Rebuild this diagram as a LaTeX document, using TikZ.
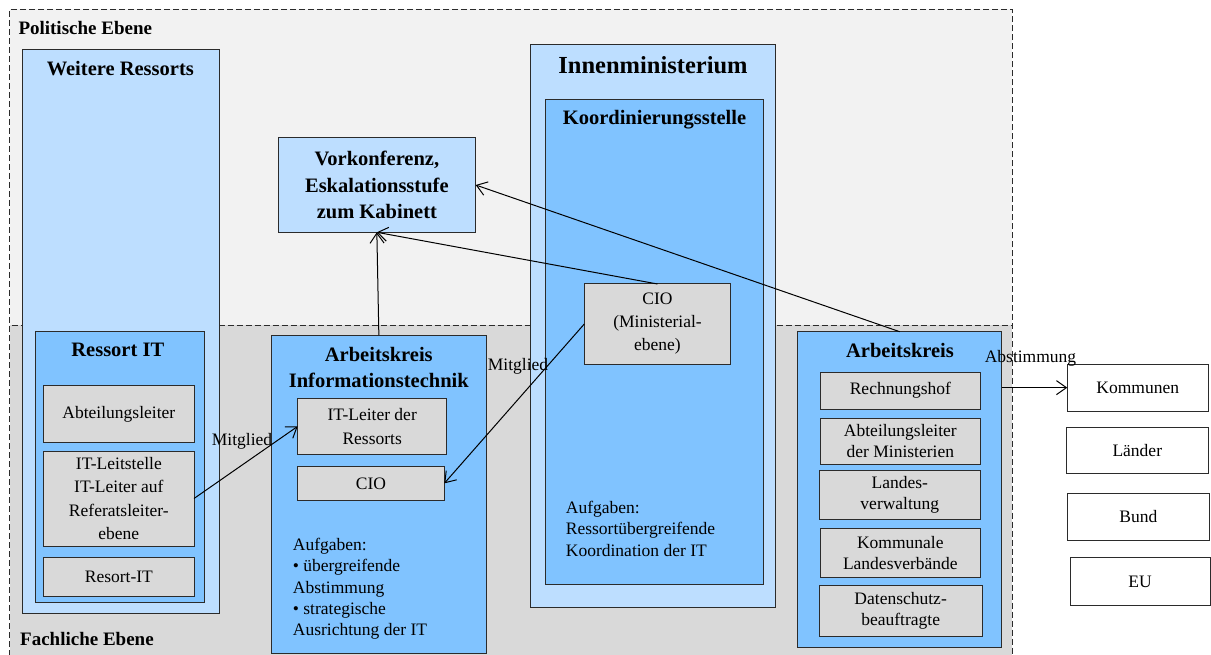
\documentclass[tikz,border=0pt]{standalone}
\usepackage{fontspec}
\setmainfont{Liberation Serif}
\usetikzlibrary{arrows.meta}

\definecolor{polbg}{HTML}{F2F2F2}
\definecolor{fachbg}{HTML}{D9D9D9}
\definecolor{lightblue}{HTML}{BDDEFF}
\definecolor{midblue}{HTML}{80C3FF}
\definecolor{cellgray}{HTML}{D9D9D9}
\definecolor{edge}{HTML}{2B2B2B}

\begin{document}
\begin{tikzpicture}[x=1pt,y=-1pt,
  % a rectangle spanning the corners (x1,y1) and (x2,y2)
  span/.style n args={4}{rectangle, anchor=center,
    at={({(#1+#3)/2},{(#2+#4)/2})},
    minimum width={(#3)-(#1)}, minimum height={(#4)-(#2)}},
  frame/.style={draw=edge, line width=1pt, inner sep=0pt, outer sep=0pt},
  outerbox/.style={frame, fill=lightblue},
  innerbox/.style={frame, fill=midblue},
  cell/.style={frame, fill=cellgray, align=center, font=\fontsize{17.5}{23.3}\selectfont},
  rcell/.style={frame, fill=cellgray, align=center, font=\fontsize{17.5}{21}\selectfont},
  extbox/.style={frame, fill=white, align=center, font=\fontsize{17.5}{21}\selectfont},
  level/.style={draw=edge, line width=1pt, dash pattern=on 6pt off 3pt},
  heading/.style={font=\bfseries\fontsize{20.5}{26.5}\selectfont, align=center, inner sep=0pt},
  leveltitle/.style={font=\bfseries\fontsize{19}{23}\selectfont, anchor=west, inner sep=0pt},
  tasks/.style={font=\fontsize{17.5}{21.3}\selectfont, align=left, inner sep=0pt, anchor=north west},
  lbl/.style={font=\fontsize{17.5}{21}\selectfont, inner sep=0pt},
  arr/.style={draw=black, line width=1pt, -{Straight Barb[length=10pt,width=14pt]}},
]
\useasboundingbox (0,0) rectangle (1211,655);

% the two levels
\node[level, fill=polbg, inner sep=0pt, span={9.5}{9.5}{1012}{325}] (pol) {};
\fill[fachbg] (9.5,325) rectangle (1012,665);
\draw[level] (9.5,665) -- (9.5,325) -- (1012,325) -- (1012,665);
\node[leveltitle] (poltitle) at (18.3,28.3) {Politische Ebene};
\node[leveltitle] (fachtitle) at (20,639) {Fachliche Ebene};

% further ministries
\node[outerbox, span={22}{50}{219}{613}] (weitere) {};
\node[heading] (weiteretitle) at (120.3,68.3) {Weitere Ressorts};
\node[innerbox, span={35}{331.7}{204.3}{602.7}] (ressortit) {};
\node[heading] (ressortittitle) at (117.8,350) {Ressort IT};
\node[cell, span={43.7}{385.7}{194}{442}] (abtl) {Abteilungsleiter};
\node[cell, span={43.7}{451}{194}{546}] (itls) {IT-Leitstelle\\IT-Leiter auf\\Referatsleiter-\\ebene};
\node[cell, span={43.7}{557.7}{194}{596}] (resortit) {Resort-IT};

% working group IT
\node[innerbox, span={271.7}{335}{486}{653.3}] (akit) {};
\node[heading] (akittitle) at (378.8,367.7) {Arbeitskreis\\Informationstechnik};
\node[cell, font=\fontsize{17.5}{24}\selectfont, span={297.7}{398.7}{446.7}{454}] (itl) {IT-Leiter der\\Ressorts};
\node[cell, span={297.7}{466.7}{444.3}{500}] (akcio) {CIO};
\node[tasks] (akittasks) at (292.7,538) {Aufgaben:\\\textbullet{} übergreifende\\Abstimmung\\\textbullet{} strategische\\Ausrichtung der IT};

% cabinet pre-conference
\node[outerbox, heading, span={278}{137.7}{475.7}{232.3}] (vork) {Vorkonferenz,\\Eskalationsstufe\\zum Kabinett};

% ministry of the interior
\node[outerbox, span={530.7}{44.7}{775.7}{607.7}] (innen) {};
\node[heading, font=\bfseries\fontsize{24.5}{28}\selectfont] (innentitle) at (653,65) {Innenministerium};
\node[innerbox, span={545.3}{99.7}{763.7}{584}] (koord) {};
\node[heading] (koordtitle) at (654.5,119.3) {Koordinierungsstelle};
\node[cell, font=\fontsize{17.5}{23}\selectfont, span={584.3}{284}{730.7}{364}] (ciom) {CIO\\(Ministerial-\\ebene)};
\node[tasks] (koordtasks) at (565.7,501) {Aufgaben:\\Ressortübergreifende\\Koordination der IT};

% working group with external members
\node[innerbox, span={797.7}{331.7}{1001.7}{647.3}] (akr) {};
\node[heading] (akrtitle) at (900,350.7) {Arbeitskreis};
\node[rcell, span={820}{372.3}{980.7}{409}] (rh) {Rechnungshof};
\node[rcell, span={820}{418.3}{980.7}{464.3}] (abtm) {Abteilungsleiter\\der Ministerien};
\node[rcell, span={819}{470.7}{980.7}{519.3}] (lv) {Landes-\\verwaltung};
\node[rcell, span={820}{528.7}{980.7}{577.3}] (klv) {Kommunale\\Landesverbände};
\node[rcell, span={819}{585.3}{982.3}{636}] (ds) {Datenschutz-\\beauftragte};

% external partners
\node[extbox, span={1067.3}{364}{1208.3}{411.3}] (komm) {Kommunen};
\node[extbox, span={1066.3}{427.3}{1208.3}{473.7}] (laender) {Länder};
\node[extbox, span={1067.3}{493}{1209.3}{540.7}] (bund) {Bund};
\node[extbox, span={1070}{557.7}{1210.3}{605.3}] (eu) {EU};

% connectors
\draw[arr] (itls.east) -- (itl.west);
\node[lbl] (mitglied1) at (242,441) {Mitglied};
\draw[arr] (akit.north) -- (vork.south);
\draw[arr] (ciom.north) -- (vork.south);
\draw[arr] (ciom.west) -- (akcio.east);
\node[lbl] (mitglied2) at (518,366) {Mitglied};
\draw[arr] (akr.north) -- (vork.east);
\draw[arr] (akr.east |- komm.west) -- (komm.west);
\node[lbl] (abstimmung) at (1030.5,358) {Abstimmung};
\end{tikzpicture}
\end{document}
